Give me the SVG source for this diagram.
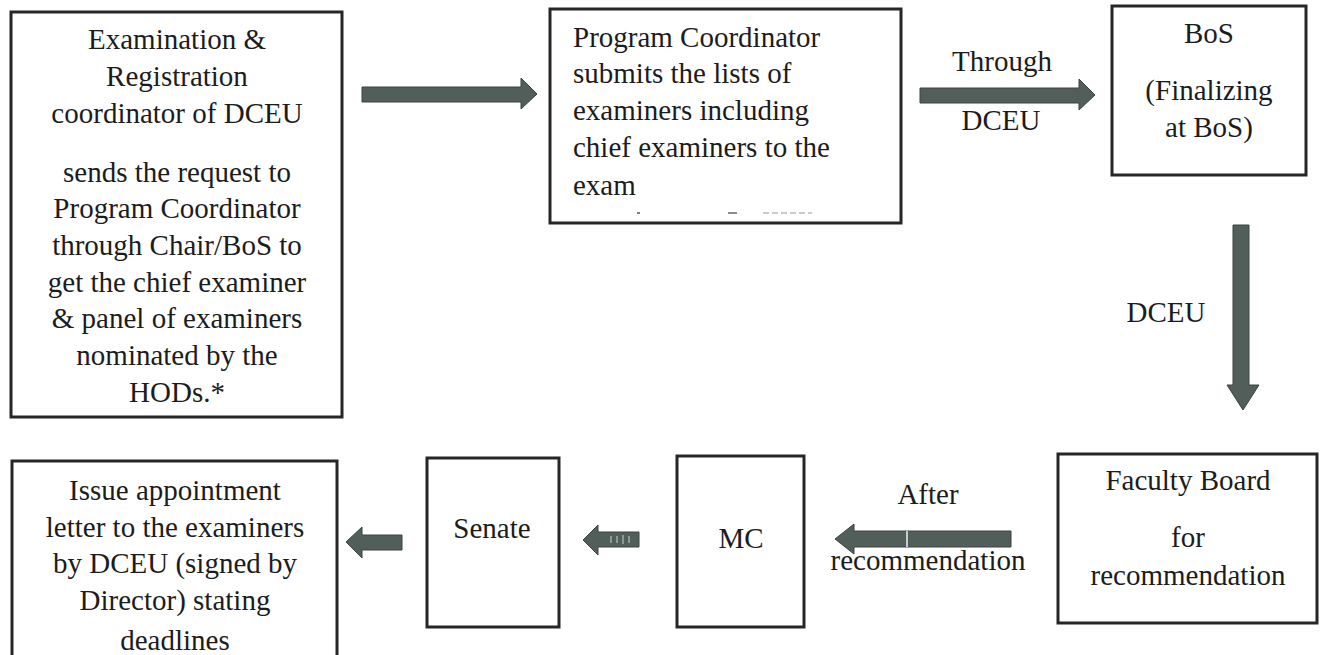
<svg xmlns="http://www.w3.org/2000/svg" width="1327" height="655" viewBox="0 0 1327 655">
  <style>
    .box { fill: #ffffff; stroke: #262626; stroke-width: 3; }
    .t { font-family: "Liberation Serif", "Times New Roman", serif; font-size: 29px; fill: #1c1c1c; }
    .c { text-anchor: middle; }
    .arrow { fill: #525e5a; stroke: #3b4441; stroke-width: 1; }
  </style>
  <rect width="1327" height="655" fill="#ffffff"/>

  <!-- Examination & Registration coordinator -->
  <g id="node-exam-coordinator">
    <rect class="box" x="11" y="12" width="331" height="405"/>
    <text class="t c" x="177" y="49">Examination &amp;</text>
    <text class="t c" x="177" y="86">Registration</text>
    <text class="t c" x="177" y="123">coordinator of DCEU</text>
    <text class="t c" x="177" y="182">sends the request to</text>
    <text class="t c" x="177" y="218">Program Coordinator</text>
    <text class="t c" x="177" y="255">through Chair/BoS to</text>
    <text class="t c" x="177" y="292">get the chief examiner</text>
    <text class="t c" x="177" y="328">&amp; panel of examiners</text>
    <text class="t c" x="177" y="365">nominated by the</text>
    <text class="t c" x="177" y="402">HODs.*</text>
  </g>

  <!-- Program Coordinator -->
  <g id="node-program-coordinator">
    <rect class="box" x="550" y="9" width="351" height="214"/>
    <text class="t" x="573" y="47">Program Coordinator</text>
    <text class="t" x="573" y="83">submits the lists of</text>
    <text class="t" x="573" y="120">examiners including</text>
    <text class="t" x="573" y="157">chief examiners to the</text>
    <text class="t" x="573" y="195">exam</text>
    <g stroke-linecap="butt">
      <line x1="637" y1="213" x2="640" y2="213" stroke="#555" stroke-width="1.5"/>
      <line x1="728" y1="213" x2="737" y2="213" stroke="#666" stroke-width="1.5"/>
      <line x1="763" y1="213" x2="812" y2="213" stroke="#999" stroke-width="1" stroke-dasharray="6 3"/>
    </g>
  </g>

  <!-- BoS -->
  <g id="node-bos">
    <rect class="box" x="1112" y="6" width="194" height="169"/>
    <text class="t c" x="1209" y="43">BoS</text>
    <text class="t c" x="1209" y="100">(Finalizing</text>
    <text class="t c" x="1209" y="137">at BoS)</text>
  </g>

  <!-- Faculty Board -->
  <g id="node-faculty-board">
    <rect class="box" x="1058" y="454" width="259" height="169"/>
    <text class="t c" x="1188" y="490">Faculty Board</text>
    <text class="t c" x="1188" y="547">for</text>
    <text class="t c" x="1188" y="585">recommendation</text>
  </g>

  <!-- MC -->
  <g id="node-mc">
    <rect class="box" x="677" y="456" width="127" height="171"/>
    <text class="t c" x="741" y="548">MC</text>
  </g>

  <!-- Senate -->
  <g id="node-senate">
    <rect class="box" x="427" y="458" width="132" height="169"/>
    <text class="t c" x="492" y="538">Senate</text>
  </g>

  <!-- Appointment letter -->
  <g id="node-appointment-letter">
    <rect class="box" x="12" y="461" width="325" height="210"/>
    <text class="t c" x="175" y="500">Issue appointment</text>
    <text class="t c" x="175" y="537">letter to the examiners</text>
    <text class="t c" x="175" y="573">by DCEU (signed by</text>
    <text class="t c" x="175" y="610">Director) stating</text>
    <text class="t c" x="175" y="650">deadlines</text>
  </g>

  <!-- Block arrows and their labels -->
  <g id="connectors">
    <polygon class="arrow" points="362,87 521,87 521,78 537,94 521,109 521,102 362,102"/>
    <polygon class="arrow" points="920,88 1079,88 1079,79 1095,95 1079,110 1079,103 920,103"/>
    <text class="t c" x="1002" y="71">Through</text>
    <text class="t c" x="1001" y="130">DCEU</text>

    <polygon class="arrow" points="1233,225 1249,225 1249,385 1259,385 1243,410 1227,385 1233,385"/>
    <text class="t c" x="1166" y="322">DCEU</text>

    <polygon class="arrow" points="1011,531 1011,547 854,547 854,554 835,539 854,524 854,531"/>
    <line x1="907" y1="531" x2="907" y2="547" stroke="#f2f2f2" stroke-width="1.5"/>
    <text class="t c" x="928" y="504">After</text>
    <text class="t c" x="928" y="570">recommendation</text>

    <polygon class="arrow" points="639,532 639,547 598,547 598,555 583,540 598,525 598,532"/>
    <g stroke="#c9cfcc" stroke-width="1">
      <line x1="611" y1="536" x2="611" y2="543"/>
      <line x1="617" y1="536" x2="617" y2="543"/>
      <line x1="623" y1="535" x2="623" y2="544"/>
      <line x1="629" y1="536" x2="629" y2="543"/>
    </g>

    <polygon class="arrow" points="402,535 402,550 362,550 362,558 346,542 362,527 362,535"/>
  </g>
</svg>
